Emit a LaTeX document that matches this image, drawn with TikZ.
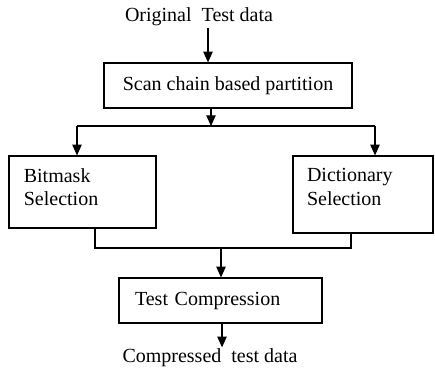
\documentclass[tikz,border=0pt]{standalone}
\usepackage{fontspec}
\setmainfont{Liberation Serif}
\usetikzlibrary{calc,arrows.meta}
\newcommand{\px}{0.75pt}
\newcommand{\blksize}{\fontsize{15}{17.5}\selectfont}
% text kept at the top of a box: height, width, text
\newcommand{\toptext}[3]{\parbox[c][#1][t]{#2}{\vspace{9.5pt}#3}}

\tikzset{
  blk/.style={draw,line width=0.9pt,inner sep=0pt,align=left,font=\blksize},
  lbl/.style={inner sep=1pt,font=\blksize},
  arr/.style={line width=0.9pt,-{Triangle[length=8pt,width=7pt]}},
  ln/.style={line width=0.9pt}
}

\begin{document}
\begin{tikzpicture}[x=\px,y=-\px]
    \useasboundingbox (0,0) rectangle (435,372);

    \node[lbl] (orig) at (199,17) {Original\ \ Test data};
    \node[blk,minimum width=248*\px,minimum height=45*\px] (scan) at (228,85.5) {Scan chain based partition};
    \node[blk,minimum width=147*\px] (bit) at (82.5,192)
        {\toptext{54pt}{88pt}{Bitmask\\Selection}};
    \node[blk,minimum width=140*\px] (dict) at (363,194.5)
        {\toptext{57.75pt}{84pt}{Dictionary\\Selection}};
    \node[blk,minimum width=203*\px,minimum height=45*\px,text width=171*\px] (comp) at (220.5,300.5)
        {Test Compression};
    \node[lbl] (out) at (210,358) {Compressed\ \ test data};

    \coordinate (split) at (211,126);
    \coordinate (lt) at (77,126);
    \coordinate (rt) at (375,126);
    \coordinate (ml) at (95,248);
    \coordinate (mr) at (351,248);
    \coordinate (merge) at (221,248);

    \draw[arr] (orig.south -| 208,0) -- (scan.north -| 208,0);
    \draw[arr] (scan.south -| split) -- (split);
    \draw[ln] (lt) -- (rt);
    \draw[arr] (lt) -- (bit.north -| lt);
    \draw[arr] (rt) -- (dict.north -| rt);
    \draw[ln] (bit.south -| ml) -- (ml) -- (mr) -- (dict.south -| mr);
    \draw[arr] (merge) -- (comp.north -| merge);
    \draw[arr] (comp.south -| 222,0) -- (out.north -| 222,0);
\end{tikzpicture}
\end{document}
